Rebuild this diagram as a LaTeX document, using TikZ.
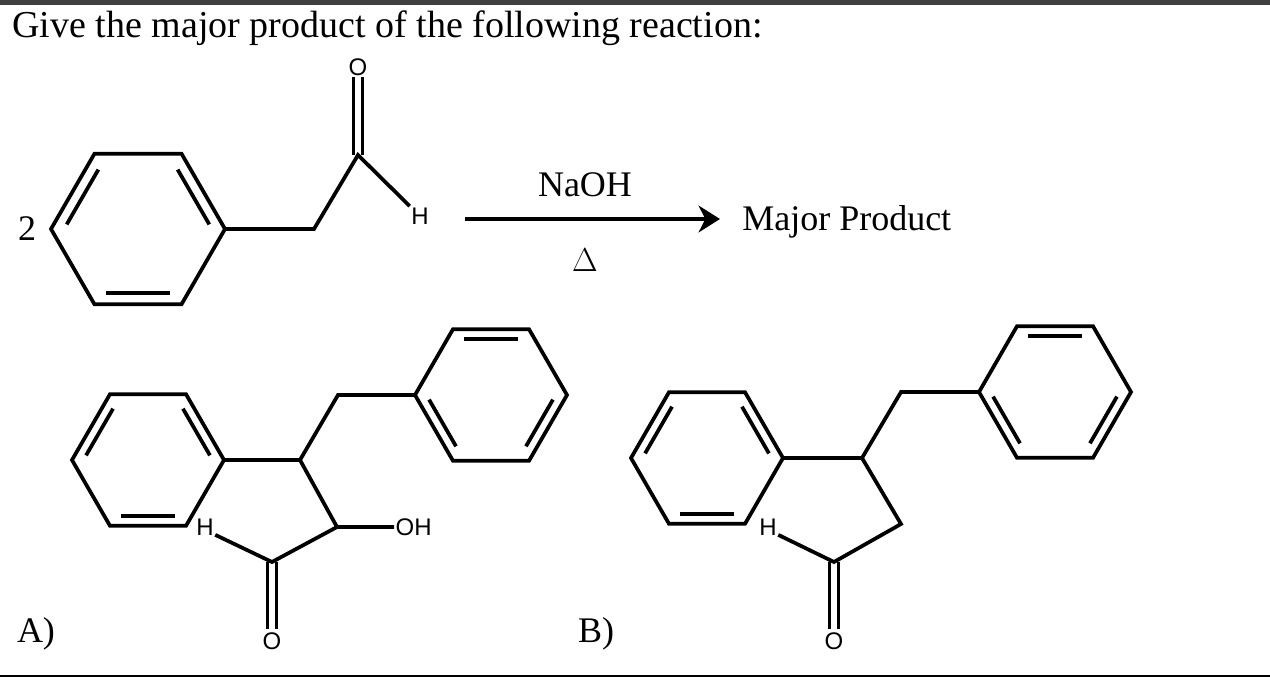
\documentclass[tikz,border=0pt]{standalone}
\usepackage{fontspec}
\setmainfont{Liberation Serif}
\newfontfamily\labf{Liberation Sans}
\usetikzlibrary{calc,arrows.meta}
\tikzset{bond/.style={line width=2.8pt,line join=miter,line cap=butt},
 atom/.style={font=\labf\fontsize{18}{20}\selectfont,inner sep=1pt},
 txt/.style={font=\fontsize{27}{30}\selectfont,inner sep=0pt}}
\newcommand\benz[5]{%
 \coordinate (#1) at (#2,#3);
 \foreach \k in {0,...,5}{\coordinate (#1-\k) at ($(#1)+(\k*60:#4)$);}
 \draw[bond] (#1-0)--(#1-1)--(#1-2)--(#1-3)--(#1-4)--(#1-5)--cycle;
 \foreach \a/\b in {#5}{\draw[bond,shorten <=4pt,shorten >=4pt] ($(#1)!0.85!(#1-\a)$) -- ($(#1)!0.85!(#1-\b)$);}
}
\begin{document}
\begin{tikzpicture}[x=0.75pt,y=-0.75pt]
\useasboundingbox (0,0) rectangle (1270,679);
\fill[black!75] (0,0) rectangle (1270,5);
\draw[line width=1.5pt] (0,676) -- (1270,676);
\node[txt,anchor=base west,font=\fontsize{28.5}{30}\selectfont] (title) at (12,37) {Give the major product of the following reaction:};
% reactant
\node[txt] (two) at (27,229) {2};
\benz{r}{138}{229}{87}{4/3,5/0,2/1}
\coordinate (rch2) at (314,229);
\coordinate (rc) at (358,155);
\node[atom] (ro) at (358,67) {O};
\node[atom] (rh) at (420,216) {H};
\draw[bond] (r-0) -- (rch2) -- (rc) -- (rh.north west);
\draw[bond] ($(rc)+(-4.5,0)$) -- ($(ro.south)+(-4.5,0)$);
\draw[bond] ($(rc)+(4.5,0)$) -- ($(ro.south)+(4.5,0)$);
% arrow
\coordinate (as) at (465,219);
\coordinate (ae) at (720,219);
\draw[line width=2.8pt,-{Stealth[length=16pt,width=20pt,inset=5pt]}] (as) -- (ae);
\node[txt] (naoh) at (585,185) {NaOH};
\node[txt] (delta) at (585,260) {$\Delta$};
\node[txt,anchor=west] (mp) at (742,222) {Major Product};
% A
\benz{a}{148}{460}{76}{4/3,5/0,2/1}
\benz{aa}{491}{395}{76}{4/5,0/1,3/2}
\coordinate (ach) at (300,460);
\coordinate (ach2) at (338,395);
\coordinate (acoh) at (337,527);
\coordinate (acho) at (272,562);
\node[atom,anchor=west] (aoh) at (394,527) {OH};
\node[atom] (ao) at (272,641) {O};
\node[atom] (ah) at (205,527) {H};
\draw[bond] (a-0) -- (ach) -- (ach2) -- (aa-3);
\draw[bond] (ach) -- (acoh) -- (aoh.west);
\draw[bond] (acoh) -- (acho) -- ($(ah.south east)+(0,-2)$);
\draw[bond] ($(acho)+(-4.5,0)$) -- ($(ao.north)+(-4.5,-2)$);
\draw[bond] ($(acho)+(4.5,0)$) -- ($(ao.north)+(4.5,-2)$);
\node[txt] (la) at (36,634) {A)};
% B
\benz{b}{707}{458}{76}{4/3,5/0,2/1}
\benz{bb}{1055}{392}{76}{4/5,0/1,3/2}
\coordinate (bc) at (862,458);
\coordinate (bch2) at (901,392);
\coordinate (bch) at (901,524);
\coordinate (bcho) at (834,562);
\node[atom] (bo) at (834,641) {O};
\node[atom] (bh) at (768,527) {H};
\draw[bond] (b-0) -- (bc) -- (bch2) -- (bb-3);
\draw[bond] (bc) -- (bch) -- (bcho) -- ($(bh.south east)+(0,-2)$);
\draw[bond,shorten <=8pt,shorten >=4pt] ($(bc)!10!90:(bch)$) -- ($(bch)!10!-90:(bc)$);
\draw[bond] ($(bcho)+(-4.5,0)$) -- ($(bo.north)+(-4.5,-2)$);
\draw[bond] ($(bcho)+(4.5,0)$) -- ($(bo.north)+(4.5,-2)$);
\node[txt] (lb) at (596,634) {B)};
\end{tikzpicture}
\end{document}
